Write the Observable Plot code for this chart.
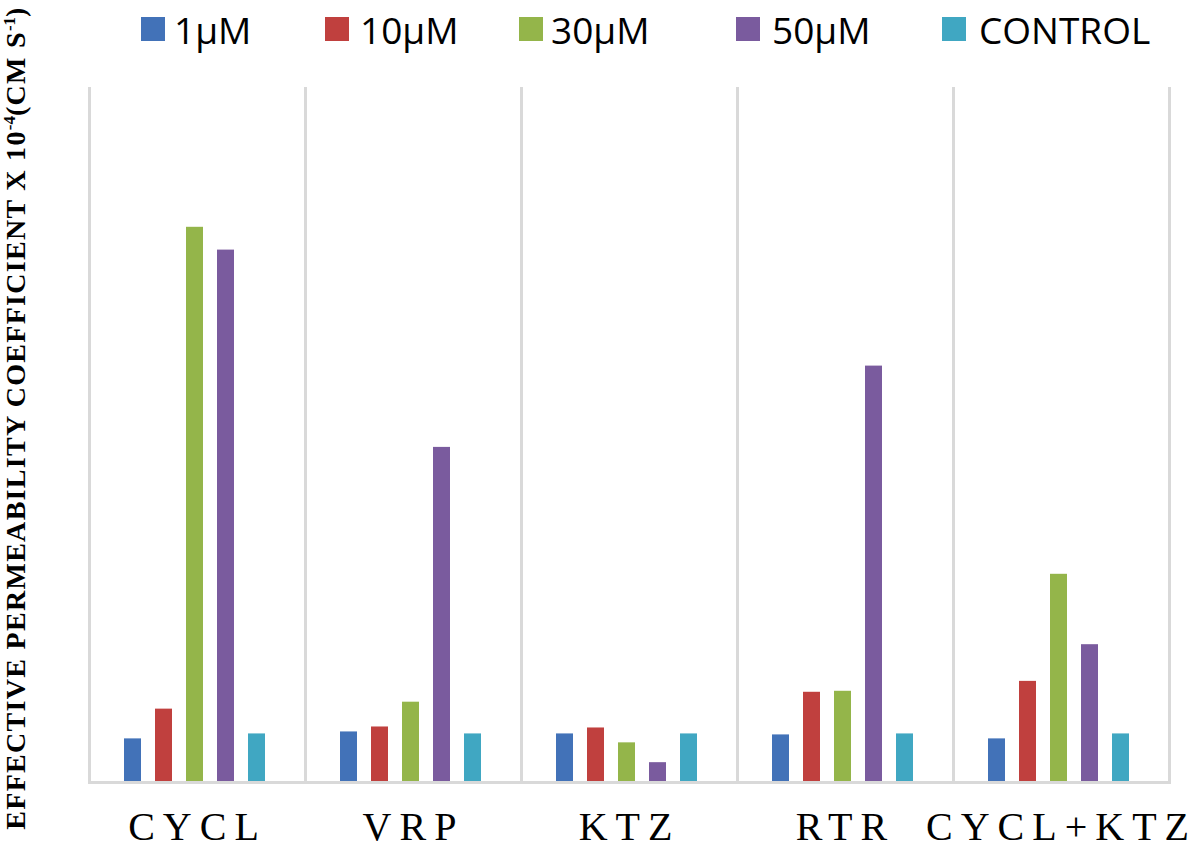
<!DOCTYPE html>
<html>
<head>
<meta charset="utf-8">
<script src="https://cdn.jsdelivr.net/npm/d3@7"></script>
<script src="https://cdn.jsdelivr.net/npm/@observablehq/plot@0.6"></script>
<style>
  html, body { margin: 0; padding: 0; background: #fff; }
  #wrap { position: relative; width: 1200px; height: 848px; overflow: hidden; background: #fff; }
  #legend { position: relative; width: 1200px; height: 45px; }
  .sw { position: absolute; top: 17px; width: 24px; height: 24px; }
  .lt { position: absolute; top: 11px; font-family: "Open Sans", sans-serif; font-size: 37px; line-height: 37px; color: #000; white-space: nowrap; }
  #ytitle { position: absolute; left: 16px; top: 418px; transform: translate(-50%, -50%) rotate(-90deg);
    font-family: "Liberation Serif", "Times New Roman", serif; font-weight: bold; font-size: 28px; line-height: 28px;
    white-space: nowrap; letter-spacing: 1.3px; color: #000; }
  #ytitle sup { font-size: 17px; vertical-align: 10px; line-height: 0; letter-spacing: 0; }
  #chart svg text { letter-spacing: 8px; }
</style>
</head>
<body>
<div id="wrap">
  <div id="legend"></div>
  <div id="chart"></div>
  <div id="ytitle">EFFECTIVE PERMEABILITY COEFFICIENT X 10<sup>-4</sup>(CM S<sup>-1</sup>)</div>
</div>
<script>
// ---- data ----
const groups = ["CYCL", "VRP", "KTZ", "RTR", "CYCL+KTZ"];
const series = ["1µM", "10µM", "30µM", "50µM", "CONTROL"];
const colors = ["#4272b8", "#c0403e", "#94b54a", "#7a5b9e", "#40a7c2"];
const v1uM   = [0.44, 0.51, 0.49, 0.48, 0.44];
const v10uM  = [0.74, 0.56, 0.55, 0.91, 1.02];
const v30uM  = [5.60, 0.81, 0.40, 0.92, 2.10];
const v50uM  = [5.37, 3.38, 0.20, 4.20, 1.39];
const vCtrl  = [0.49, 0.49, 0.49, 0.49, 0.49];
const yDomain = [0, 7];

const valuesBySeries = [v1uM, v10uM, v30uM, v50uM, vCtrl];
const table = [];
groups.forEach((g, gi) => series.forEach((s, si) => table.push({group: g, series: s, value: valuesBySeries[si][gi]})));

// ---- legend (HTML, above the SVG) ----
const legendPos = [[141, 174], [325, 360], [519, 551], [736, 772], [942, 979]];
const legend = document.getElementById("legend");
series.forEach((s, i) => {
  const sw = document.createElement("div");
  sw.className = "sw"; sw.style.left = legendPos[i][0] + "px"; sw.style.background = colors[i];
  const t = document.createElement("div");
  t.className = "lt"; t.style.left = legendPos[i][1] + "px"; t.textContent = s;
  legend.appendChild(sw); legend.appendChild(t);
});

// ---- chart ----
const grid = {stroke: "#d9d9d9", strokeWidth: 3, strokeOpacity: 1};
const chart = Plot.plot({
  width: 1200,
  height: 803,
  marginTop: 43,
  marginBottom: 66,
  marginLeft: 87,
  marginRight: 29,
  style: {fontFamily: "'Liberation Serif', 'Times New Roman', serif", fontSize: "40px", color: "#000", background: "#fff"},
  fx: {domain: groups, padding: 0, label: null, tickSize: 0, tickPadding: 29},
  x: {domain: series, paddingInner: 0.465, paddingOuter: 1.165, align: 0.47, axis: null},
  y: {domain: yDomain, axis: null},
  color: {domain: series, range: colors},
  marks: [
    Plot.barY(table, {fx: "group", x: "series", y: "value", fill: "series"}),
    Plot.frame({anchor: "left", ...grid}),
    Plot.frame({anchor: "right", ...grid}),
    Plot.frame({anchor: "bottom", ...grid})
  ]
});
document.getElementById("chart").appendChild(chart);
</script>
</body>
</html>
